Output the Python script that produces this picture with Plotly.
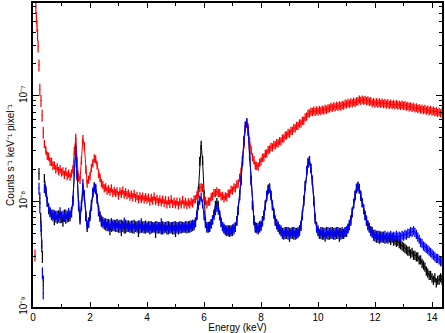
import numpy as np
import plotly.graph_objects as go

SCALE = 1e-8  # stored values are in units of 1e-8 counts s^-1 keV^-1 pixel^-1

# channel grid (bin centres, keV), 0.05 keV bins from 0.40 to 14.35
energy = np.round(0.40 + 0.05 * np.arange(280), 2)

red = [
    3.5, 3.05, 2.70, 2.66, 2.38, 2.37, 2.18, 2.20, 2.02, 2.10,
    1.94, 2.03, 1.88, 1.93, 1.79, 1.92, 1.74, 1.83, 1.72, 1.84,
    2.0, 3.0, 4.0, 2.4, 1.68, 1.60, 2.45, 3.9, 3.35, 2.0,
    1.48, 1.61, 1.73, 2.08, 2.30, 2.56, 2.50, 2.20, 1.82, 1.67,
    1.49, 1.44, 1.33, 1.36, 1.27, 1.31, 1.24, 1.33, 1.21, 1.26,
    1.20, 1.25, 1.14, 1.24, 1.18, 1.27, 1.16, 1.22, 1.15, 1.19,
    1.11, 1.16, 1.10, 1.18, 1.08, 1.13, 1.05, 1.12, 1.06, 1.11,
    1.05, 1.10, 1.04, 1.09, 1.00, 1.08, 1.02, 1.11, 1.01, 1.06,
    0.99, 1.05, 0.98, 1.04, 0.97, 1.03, 0.94, 1.02, 0.95, 1.05,
    0.95, 1.00, 0.94, 1.00, 0.92, 0.99, 0.94, 1.03, 0.94, 0.99,
    0.93, 0.98, 0.94, 0.99, 0.96, 1.04, 1.05, 1.14, 1.20, 1.35,
    1.36, 1.34, 1.09, 1.01, 0.94, 1.00, 1.00, 1.10, 1.12, 1.20,
    1.20, 1.25, 1.20, 1.20, 1.12, 1.13, 1.07, 1.12, 1.10, 1.19,
    1.19, 1.29, 1.27, 1.36, 1.33, 1.45, 1.48, 1.68, 1.92, 2.48,
    3.45, 4.9, 5.4, 5.0, 3.7, 3.06, 2.62, 2.47, 2.19, 2.17,
    2.14, 2.33, 2.40, 2.59, 2.62, 2.82, 2.86, 3.07, 3.11, 3.28,
    3.25, 3.43, 3.40, 3.57, 3.55, 3.73, 3.70, 3.94, 3.95, 4.20,
    4.22, 4.45, 4.40, 4.67, 4.67, 4.95, 4.93, 5.20, 5.20, 5.48,
    5.47, 5.79, 5.82, 6.27, 6.37, 6.80, 6.80, 7.10, 7.00, 7.24,
    7.06, 7.29, 7.10, 7.35, 7.18, 7.41, 7.25, 7.51, 7.35, 7.61,
    7.59, 7.87, 7.69, 7.97, 7.79, 8.07, 7.87, 8.12, 7.93, 8.22,
    8.09, 8.43, 8.28, 8.58, 8.38, 8.68, 8.48, 8.78, 8.58, 8.88,
    8.85, 9.20, 8.95, 9.22, 8.98, 9.15, 8.90, 9.05, 8.75, 8.90,
    8.50, 8.73, 8.46, 8.69, 8.42, 8.65, 8.38, 8.61, 8.34, 8.56,
    8.28, 8.51, 8.23, 8.45, 8.18, 8.40, 8.13, 8.35, 8.08, 8.27,
    8.05, 8.25, 8.00, 8.15, 7.90, 8.05, 7.80, 7.95, 7.70, 7.86,
    7.60, 7.76, 7.50, 7.66, 7.40, 7.58, 7.33, 7.51, 7.25, 7.41,
    7.15, 7.33, 7.10, 7.25, 7.00, 7.15, 6.90, 7.07, 6.82, 6.98,
]

black = [
    1.65, 1.27, 1.00, 0.84, 0.80, 0.74, 0.76, 0.66, 0.74, 0.68,
    0.75, 0.69, 0.73, 0.64, 0.76, 0.68, 0.74, 0.71, 0.75, 0.80,
    1.00, 2.0, 3.25, 1.80, 0.90, 0.67, 0.93, 1.27, 1.12, 0.72,
    0.57, 0.64, 0.72, 0.94, 1.20, 1.38, 1.30, 1.08, 0.80, 0.73,
    0.64, 0.65, 0.60, 0.63, 0.58, 0.62, 0.53, 0.63, 0.58, 0.61,
    0.57, 0.62, 0.56, 0.61, 0.52, 0.60, 0.55, 0.61, 0.57, 0.60,
    0.56, 0.60, 0.55, 0.61, 0.57, 0.59, 0.51, 0.60, 0.56, 0.59,
    0.55, 0.60, 0.56, 0.59, 0.54, 0.59, 0.56, 0.58, 0.50, 0.59,
    0.55, 0.58, 0.54, 0.59, 0.55, 0.58, 0.54, 0.59, 0.55, 0.58,
    0.54, 0.59, 0.51, 0.58, 0.54, 0.59, 0.55, 0.58, 0.56, 0.59,
    0.55, 0.59, 0.56, 0.60, 0.58, 0.61, 0.64, 0.74, 1.25, 2.40,
    3.40, 2.45, 1.15, 0.64, 0.56, 0.58, 0.57, 0.62, 0.67, 0.76,
    0.92, 0.98, 0.92, 0.74, 0.63, 0.58, 0.55, 0.54, 0.52, 0.54,
    0.51, 0.54, 0.52, 0.56, 0.57, 0.66, 0.82, 1.13, 1.60, 2.40,
    3.70, 5.10, 5.50, 4.60, 2.70, 1.60, 0.93, 0.66, 0.56, 0.57,
    0.54, 0.59, 0.58, 0.66, 0.73, 0.93, 1.12, 1.31, 1.33, 1.15,
    0.91, 0.78, 0.65, 0.62, 0.57, 0.55, 0.52, 0.51, 0.48, 0.52,
    0.49, 0.52, 0.46, 0.51, 0.49, 0.52, 0.48, 0.51, 0.50, 0.54,
    0.58, 0.75, 1.00, 1.42, 1.95, 2.30, 2.45, 2.05, 1.57, 1.03,
    0.68, 0.58, 0.52, 0.49, 0.52, 0.48, 0.51, 0.46, 0.52, 0.48,
    0.51, 0.49, 0.52, 0.48, 0.51, 0.49, 0.52, 0.46, 0.51, 0.49,
    0.50, 0.52, 0.51, 0.56, 0.59, 0.67, 0.78, 0.96, 1.13, 1.32,
    1.38, 1.33, 1.12, 0.98, 0.84, 0.74, 0.65, 0.60, 0.56, 0.53,
    0.52, 0.47, 0.49, 0.45, 0.48, 0.44, 0.47, 0.45, 0.47, 0.44,
    0.46, 0.44, 0.46, 0.43, 0.45, 0.42, 0.43, 0.41, 0.42, 0.40,
    0.39, 0.38, 0.37, 0.36, 0.35, 0.34, 0.34, 0.32, 0.33, 0.31,
    0.31, 0.30, 0.30, 0.28, 0.28, 0.26, 0.25, 0.24, 0.22, 0.21,
    0.20, 0.20, 0.19, 0.18, 0.19, 0.17, 0.18, 0.18, 0.19, 0.18,
]

blue = [
    1.33, 1.22, 0.98, 0.87, 0.78, 0.76, 0.72, 0.75, 0.70, 0.74,
    0.70, 0.80, 0.69, 0.74, 0.71, 0.76, 0.70, 0.79, 0.72, 0.78,
    1.02, 1.92, 3.05, 1.75, 0.93, 0.70, 0.90, 1.48, 1.16, 0.75,
    0.60, 0.62, 0.75, 0.90, 1.23, 1.35, 1.33, 1.05, 0.83, 0.71,
    0.67, 0.62, 0.63, 0.59, 0.62, 0.58, 0.61, 0.57, 0.61, 0.58,
    0.61, 0.57, 0.60, 0.56, 0.61, 0.57, 0.64, 0.55, 0.60, 0.57,
    0.59, 0.56, 0.60, 0.55, 0.59, 0.56, 0.60, 0.55, 0.63, 0.56,
    0.59, 0.55, 0.58, 0.56, 0.59, 0.55, 0.58, 0.56, 0.59, 0.55,
    0.58, 0.55, 0.63, 0.54, 0.58, 0.56, 0.59, 0.54, 0.58, 0.55,
    0.58, 0.54, 0.59, 0.55, 0.58, 0.55, 0.59, 0.56, 0.58, 0.56,
    0.59, 0.56, 0.60, 0.57, 0.61, 0.59, 0.63, 0.75, 0.92, 1.03,
    1.10, 0.95, 0.74, 0.62, 0.58, 0.56, 0.59, 0.61, 0.67, 0.74,
    0.82, 0.88, 0.83, 0.73, 0.64, 0.58, 0.56, 0.53, 0.54, 0.52,
    0.54, 0.52, 0.55, 0.54, 0.58, 0.65, 0.83, 1.15, 1.56, 2.45,
    3.80, 5.20, 5.60, 4.70, 2.75, 1.56, 0.92, 0.67, 0.58, 0.55,
    0.57, 0.56, 0.60, 0.64, 0.75, 0.91, 1.15, 1.29, 1.35, 1.13,
    0.93, 0.76, 0.67, 0.60, 0.59, 0.54, 0.54, 0.49, 0.51, 0.49,
    0.52, 0.48, 0.51, 0.49, 0.52, 0.48, 0.51, 0.49, 0.52, 0.52,
    0.60, 0.73, 1.03, 1.40, 1.97, 2.35, 2.42, 2.07, 1.60, 1.01,
    0.70, 0.56, 0.54, 0.50, 0.49, 0.52, 0.48, 0.51, 0.49, 0.52,
    0.48, 0.52, 0.49, 0.51, 0.48, 0.52, 0.49, 0.51, 0.48, 0.52,
    0.49, 0.51, 0.53, 0.55, 0.61, 0.65, 0.80, 0.95, 1.15, 1.34,
    1.40, 1.31, 1.15, 0.97, 0.86, 0.73, 0.67, 0.59, 0.57, 0.52,
    0.50, 0.49, 0.46, 0.48, 0.45, 0.48, 0.45, 0.47, 0.45, 0.48,
    0.45, 0.47, 0.45, 0.48, 0.46, 0.47, 0.46, 0.48, 0.46, 0.47,
    0.46, 0.48, 0.47, 0.49, 0.48, 0.50, 0.50, 0.52, 0.51, 0.53,
    0.51, 0.49, 0.46, 0.44, 0.41, 0.40, 0.38, 0.37, 0.36, 0.35,
    0.34, 0.33, 0.32, 0.31, 0.30, 0.29, 0.29, 0.28, 0.27, 0.27,
]

# low-energy bins (keV, units of 1e-8)
red_low_e = [0.07, 0.10, 0.12, 0.14, 0.16, 0.18, 0.21, 0.24, 0.28, 0.32, 0.36]
red_low_v = [0.31, 69, 55, 46, 38, 29.5, 19.5, 11.5, 9.0, 6.5, 4.5]
black_low_e = [0.21, 0.24, 0.27, 0.29, 0.31, 0.33, 0.36]
black_low_v = [1.83, 1.07, 0.69, 0.53, 0.38, 0.30, 0.176]
blue_low_e = [0.21, 0.24, 0.28, 0.30, 0.33, 0.36]
blue_low_v = [1.33, 0.88, 0.59, 0.41, 0.21, 0.135]

# fractional 1-sigma errors
err_red, err_black, err_blue, err_low = 0.09, 0.10, 0.10, 0.13

y_ticks = [1e-9, 1e-8, 1e-7]
y_tick_text = ["10\u207b\u2079", "10\u207b\u2078", "10\u207b\u2077"]
y_minor = [m * 10.0 ** d for d in (-9, -8, -7) for m in range(2, 10)]

fig = go.Figure()


def add_series(e_main, v_main, e_low, v_low, err, color):
    v_main = np.array(v_main) * SCALE
    v_low = np.array(v_low) * SCALE
    # main spectrum: thin connecting line + vertical error bars
    fig.add_trace(go.Scatter(
        x=e_main, y=v_main, mode="lines",
        line=dict(color=color, width=1),
        error_y=dict(type="data", array=err * v_main, color=color, thickness=1.3, width=0),
        showlegend=False, hoverinfo="skip",
    ))
    # isolated low-energy bins: crosses
    fig.add_trace(go.Scatter(
        x=e_low, y=v_low, mode="markers",
        marker=dict(size=1, color=color),
        error_y=dict(type="data", array=err_low * v_low, color=color, thickness=1.2, width=0),
        error_x=dict(type="data", array=[0.012] * len(e_low), color=color, thickness=1, width=0),
        showlegend=False, hoverinfo="skip",
    ))


add_series(energy, black, black_low_e, black_low_v, err_black, "#000000")
add_series(energy, red, red_low_e, red_low_v, err_red, "#ff0000")
add_series(energy, blue, blue_low_e, blue_low_v, err_blue, "#0000ff")

font = dict(family="Liberation Sans, Arial, sans-serif", size=10, color="black")

fig.update_layout(
    width=445, height=333,
    margin=dict(l=33, r=1, t=2, b=26),
    paper_bgcolor="white", plot_bgcolor="white",
    font=font,
)
fig.update_xaxes(
    range=[0, 14.35], showgrid=False, zeroline=False,
    showline=True, linecolor="black", linewidth=1.5, mirror="ticks",
    ticks="inside", ticklen=5, tickwidth=1, tickcolor="black",
    tickmode="array", tickvals=[0, 2, 4, 6, 8, 10, 12, 14],
    minor=dict(ticks="inside", ticklen=3, tickvals=[1, 3, 5, 7, 9, 11, 13], tickcolor="black"),
    title=dict(text="Energy (keV)", standoff=2, font=font),
    tickfont=font,
)
fig.update_yaxes(
    type="log", range=[-9, -6.123], showgrid=False, zeroline=False,
    showline=True, linecolor="black", linewidth=1.5, mirror="ticks",
    ticks="inside", ticklen=6, tickwidth=1, tickcolor="black",
    tickmode="array", tickvals=y_ticks, ticktext=y_tick_text, tickangle=-90,
    minor=dict(ticks="inside", ticklen=3, tickvals=y_minor, tickcolor="black"),
    title=dict(text="Counts s\u207b\u00b9 keV\u207b\u00b9 pixel\u207b\u00b9", standoff=2, font=font),
    tickfont=font,
)

fig.write_html(
    "out.html",
    config={"displayModeBar": False},
    post_script="document.body.style.margin='0';document.body.style.overflow='hidden';",
)
